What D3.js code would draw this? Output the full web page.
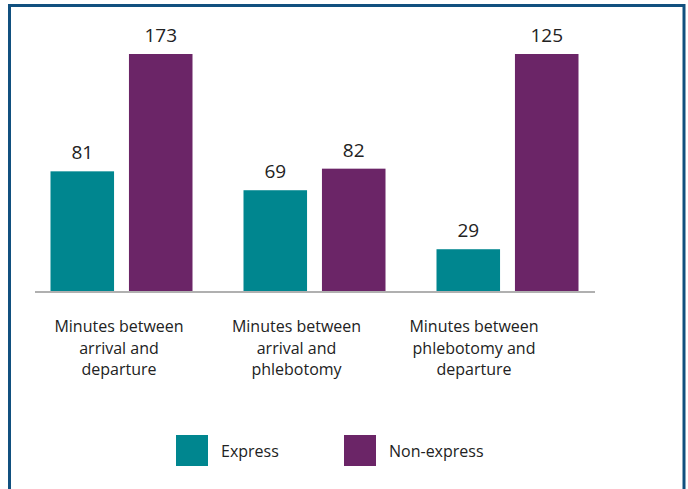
<!DOCTYPE html>
<html>
<head>
<meta charset="utf-8">
<script src="https://cdn.jsdelivr.net/npm/d3@7"></script>
<style>
  body { margin: 0; background: #fff; }
  text { font-family: "Open Sans", "Noto Sans", sans-serif; fill: #222; }
</style>
</head>
<body>
<script>
// chart data
var categories = [
  ["Minutes between", "arrival and", "departure"],
  ["Minutes between", "arrival and", "phlebotomy"],
  ["Minutes between", "phlebotomy and", "departure"]
];
var seriesNames = ["Express", "Non-express"];
var expressValues = [81, 69, 29];
var nonExpressValues = [173, 82, 125];
var colors = ["#00868f", "#6b2567"];

var catKeys = categories.map(function(c, i) { return "c" + i; });
var rows = catKeys.map(function(k, i) {
  return { key: k, values: [expressValues[i], nonExpressValues[i]] };
});

var width = 688, height = 489;
var baseline = 292, plotTop = 54;

var svg = d3.select("body").append("svg")
  .attr("width", width)
  .attr("height", height);

// frame
svg.append("rect")
  .attr("x", 9.5).attr("y", 5.5)
  .attr("width", 674.5).attr("height", 500)
  .attr("fill", "none")
  .attr("stroke", "#11507f")
  .attr("stroke-width", 3);

// scales
var x0 = d3.scaleBand()
  .domain(catKeys)
  .range([25, 604])
  .padding(0);

var x1 = d3.scaleBand()
  .domain(seriesNames)
  .range([-71, 71])
  .paddingInner(0.19);

// the original draws tall bars with a broken axis: values above 125 are capped
var y = d3.scaleLinear()
  .domain([0, 80, 125])
  .range([baseline, baseline - 118, plotTop])
  .clamp(true);

var labelX = d3.scalePoint()
  .domain(catKeys)
  .range([119, 474]);

// bars
var groups = svg.selectAll(".group")
  .data(rows)
  .enter().append("g")
    .attr("class", "group")
    .attr("transform", function(d) {
      return "translate(" + (x0(d.key) + x0.bandwidth() / 2) + ",0)";
    });

groups.selectAll("rect")
  .data(function(d) { return d.values; })
  .enter().append("rect")
    .attr("x", function(d, i) { return x1(seriesNames[i]); })
    .attr("width", x1.bandwidth())
    .attr("y", function(d) { return y(d); })
    .attr("height", function(d) { return baseline - y(d); })
    .attr("fill", function(d, i) { return colors[i]; });

groups.selectAll(".val")
  .data(function(d) { return d.values; })
  .enter().append("text")
    .attr("class", "val")
    .attr("x", function(d, i) { return x1(seriesNames[i]) + x1.bandwidth() / 2; })
    .attr("y", function(d) { return y(d) - 12; })
    .attr("text-anchor", "middle")
    .style("font-size", "19px")
    .text(function(d) { return d; });

// baseline
svg.append("line")
  .attr("x1", 35).attr("x2", 595)
  .attr("y1", baseline).attr("y2", baseline)
  .attr("stroke", "#b0b0b0")
  .attr("stroke-width", 2);

// category labels
categories.forEach(function(lines, i) {
  var t = svg.append("text")
    .attr("x", labelX(catKeys[i]))
    .attr("y", 332)
    .attr("text-anchor", "middle")
    .style("font-size", "16px");
  lines.forEach(function(line, j) {
    t.append("tspan")
      .attr("x", labelX(catKeys[i]))
      .attr("dy", j === 0 ? 0 : 21.7)
      .text(line);
  });
});

// legend
var legendX = d3.scalePoint()
  .domain(seriesNames)
  .range([176, 344]);

var legend = svg.selectAll(".legend")
  .data(seriesNames)
  .enter().append("g")
    .attr("class", "legend")
    .attr("transform", function(d) { return "translate(" + legendX(d) + ",435)"; });

legend.append("rect")
  .attr("width", 32).attr("height", 31)
  .attr("fill", function(d, i) { return colors[i]; });

legend.append("text")
  .attr("x", 45)
  .attr("y", 21.5)
  .style("font-size", "16px")
  .text(function(d) { return d; });
</script>
</body>
</html>
